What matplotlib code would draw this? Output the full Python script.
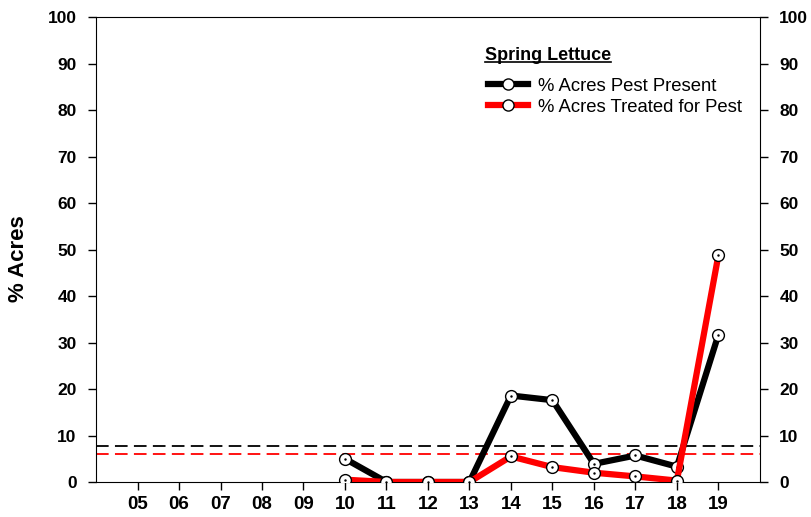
import numpy as np
import matplotlib.pyplot as plt
from matplotlib.lines import Line2D

# DATA
years = [10, 11, 12, 13, 14, 15, 16, 17, 18, 19]
tick_years = [5, 6, 7, 8, 9, 10, 11, 12, 13, 14, 15, 16, 17, 18, 19]
tick_labels = ['05', '06', '07', '08', '09', '10', '11', '12', '13', '14', '15', '16', '17', '18', '19']
pest_present = [5.0, 0.0, 0.0, 0.0, 18.6, 17.6, 3.9, 5.7, 3.3, 31.7]
pest_treated = [0.5, 0.0, 0.0, 0.0, 5.5, 3.2, 2.0, 1.2, 0.3, 48.8]
present_avg = 7.8
treated_avg = 6.1

plt.rcParams['font.family'] = ['Liberation Sans', 'DejaVu Sans']

fig = plt.figure(figsize=(8.11, 5.17), dpi=100)
ax = fig.add_axes([0.1184, 0.0677, 0.8186, 0.8993])

# linhas de média
ax.axhline(present_avg, color='black', lw=1.3, ls=(0, (7, 3.5)), zorder=1)
ax.axhline(treated_avg, color='red', lw=1.3, ls=(0, (7, 3.5)), zorder=1)

def draw(y, color, z):
    ax.plot(years, y, color=color, lw=4.5, marker='o', ms=8.5,
            mfc='white', mec='black', mew=1.0, zorder=z)
    ax.plot(years, y, ls='none', marker='.', ms=1.5, color='black', zorder=z + 0.5)

draw(pest_present, 'black', 3)
draw(pest_treated, 'red', 4)

ax.set_xlim(4, 20)
ax.set_ylim(0, 100)
ax.set_xticks(tick_years)
ax.set_xticklabels(tick_labels, fontsize=13.5, fontweight='bold')
ax.set_yticks(np.arange(0, 101, 10))
ax.tick_params(axis='y', labelsize=12.5, direction='out', length=6, width=1, pad=8,
               left=True, right=True, labelleft=True, labelright=True)
ax.tick_params(axis='x', direction='out', length=6, width=1, pad=4)
for lab in ax.get_yticklabels():
    lab.set_fontweight('bold')
ax.set_ylabel('% Acres', fontsize=16, fontweight='bold', va='center')
ax.yaxis.set_label_coords(-0.117, 0.48)

# legenda
handles = [
    Line2D([], [], color='black', lw=4.5, marker='o', ms=8, mfc='white', mec='black', mew=1.0),
    Line2D([], [], color='red', lw=4.5, marker='o', ms=8, mfc='white', mec='black', mew=1.0),
]
ax.legend(handles, ['% Acres Pest Present', '% Acres Treated for Pest'],
          loc='upper left', bbox_to_anchor=(0.579, 0.885), frameon=False,
          fontsize=13.3, handlelength=2.2, handletextpad=0.5, labelspacing=0.2,
          borderaxespad=0)

t = ax.text(0.586, 0.918, 'Spring Lettuce', transform=ax.transAxes,
            fontsize=13, fontweight='bold', va='center', ha='left')
fig.canvas.draw()
bb = t.get_window_extent().transformed(ax.transAxes.inverted())
ax.plot([bb.x0, bb.x1], [bb.y0 + 0.003, bb.y0 + 0.003], color='black', lw=1.2,
        transform=ax.transAxes, clip_on=False)

fig.savefig('out.png', dpi=100)
